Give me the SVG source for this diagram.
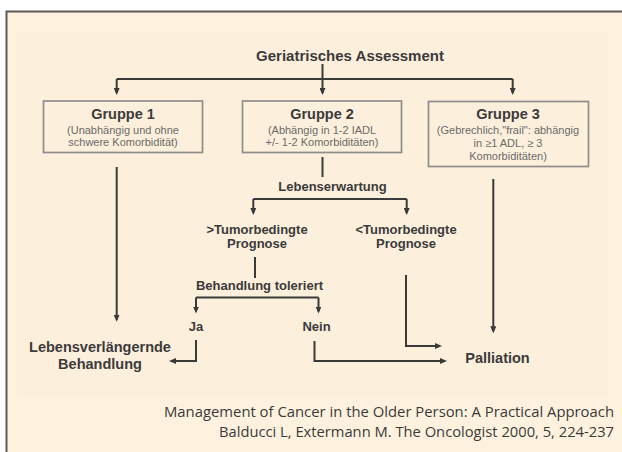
<svg xmlns="http://www.w3.org/2000/svg" width="622" height="452" viewBox="0 0 622 452">
<style>
.lbl{font-family:"Liberation Sans",Arial,sans-serif;font-weight:bold;fill:#3b3b3b;text-anchor:middle}
.sub{font-family:"Liberation Sans",Arial,sans-serif;font-size:11px;fill:#6b6b6b;text-anchor:middle}
.box{fill:none;stroke:#8e8e8e;stroke-width:1.7}
.ln{fill:none;stroke:#3a3a3a;stroke-width:2}
.arr{marker-end:url(#ah)}
.cite{font-family:"Open Sans","Liberation Sans",sans-serif;font-size:15px;fill:#3a3a3a;text-anchor:end}
</style>
<defs>
<marker id="ah" viewBox="0 0 7 6" refX="5" refY="3" markerWidth="7" markerHeight="6" orient="auto" markerUnits="userSpaceOnUse">
<path d="M0,0 L7,3 L0,6 z" fill="#3a3a3a"/>
</marker>
</defs>
<rect width="622" height="452" fill="#ffffff"/>
<rect x="6.5" y="11.5" width="622" height="450" fill="#fef2df" stroke="#5a5a5a" stroke-width="2"/>
<rect x="17" y="33" width="591" height="365" fill="#fcefdb"/>

<g id="title"><text class="lbl" x="350" y="61" font-size="15">Geriatrisches Assessment</text></g>

<g id="gruppe1">
<rect class="box" x="43.5" y="101" width="159" height="51.5"/>
<text class="lbl" x="123" y="118.5" font-size="14.5">Gruppe 1</text>
<text class="sub" x="123" y="133.5">(Unabhängig und ohne</text>
<text class="sub" x="123" y="146">schwere Komorbidität)</text>
</g>
<g id="gruppe2">
<rect class="box" x="242.5" y="101" width="159" height="51.5"/>
<text class="lbl" x="322" y="118.5" font-size="14.5">Gruppe 2</text>
<text class="sub" x="322" y="133.5">(Abhängig in 1-2 IADL</text>
<text class="sub" x="322" y="146">+/- 1-2 Komorbiditäten)</text>
</g>
<g id="gruppe3">
<rect class="box" x="428.5" y="101.5" width="160" height="65"/>
<text class="lbl" x="508" y="118.5" font-size="14.5">Gruppe 3</text>
<text class="sub" x="508" y="134">(Gebrechlich,"frail": abhängig</text>
<text class="sub" x="508" y="147">in ≥1 ADL, ≥ 3</text>
<text class="sub" x="508" y="160">Komorbiditäten)</text>
</g>
<g id="lebenserwartung"><text class="lbl" x="332.5" y="191" font-size="13">Lebenserwartung</text></g>
<g id="gt-prognose">
<text class="lbl" x="257" y="234" font-size="13">&gt;Tumorbedingte</text>
<text class="lbl" x="257" y="248" font-size="13">Prognose</text>
</g>
<g id="lt-prognose">
<text class="lbl" x="406" y="234" font-size="13">&lt;Tumorbedingte</text>
<text class="lbl" x="406" y="248" font-size="13">Prognose</text>
</g>
<g id="behandlung-toleriert"><text class="lbl" x="259.5" y="290" font-size="13">Behandlung toleriert</text></g>
<g id="ja"><text class="lbl" x="196" y="330.5" font-size="13">Ja</text></g>
<g id="nein"><text class="lbl" x="316.5" y="330.5" font-size="13">Nein</text></g>
<g id="lebensverlaengernde">
<text class="lbl" x="100" y="352" font-size="14.5">Lebensverlängernde</text>
<text class="lbl" x="100" y="368.5" font-size="14.5">Behandlung</text>
</g>
<g id="palliation"><text class="lbl" x="497.5" y="363" font-size="14.5">Palliation</text></g>

<g id="connectors">
<path class="ln" d="M322.5,64 V79"/>
<path class="ln" d="M116.7,79 H512.7"/>
<path class="ln arr" d="M116.7,79 V93"/>
<path class="ln arr" d="M322.5,79 V93"/>
<path class="ln arr" d="M512.7,79 V93"/>
<path class="ln" d="M322.5,157 V177"/>
<path class="ln" d="M253.3,199 H406.7"/>
<path class="ln arr" d="M253.3,199 V213"/>
<path class="ln arr" d="M406.7,199 V213"/>
<path class="ln" d="M255,257 V278"/>
<path class="ln" d="M196,297.5 H318.5"/>
<path class="ln arr" d="M196,297.5 V311.5"/>
<path class="ln arr" d="M318.5,297.5 V311.5"/>
<path class="ln arr" d="M196,340 V361 H171"/>
<path class="ln arr" d="M314.5,341 V361 H445"/>
<path class="ln arr" d="M406,275 V346 H440"/>
<path class="ln arr" d="M116.7,167 V319.7"/>
<path class="ln arr" d="M493.3,179 V331.3"/>
</g>

<g id="citation">
<text class="cite" x="614" y="417" textLength="450" lengthAdjust="spacingAndGlyphs">Management of Cancer in the Older Person: A Practical Approach</text>
<text class="cite" x="614" y="437" textLength="395" lengthAdjust="spacingAndGlyphs">Balducci L, Extermann M. The Oncologist 2000, 5, 224-237</text>
</g>
</svg>
